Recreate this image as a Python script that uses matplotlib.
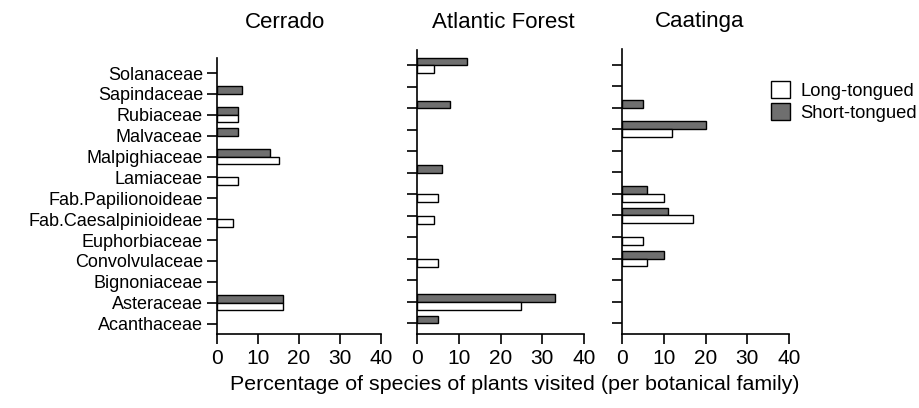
import numpy as np
import matplotlib
matplotlib.use('Agg')
import matplotlib.pyplot as plt
from matplotlib.patches import Patch

plt.rcParams['font.family'] = ['Liberation Sans', 'DejaVu Sans']

families = ['Acanthaceae', 'Asteraceae', 'Bignoniaceae', 'Convolvulaceae', 'Euphorbiaceae',
            'Fab.Caesalpinioideae', 'Fab.Papilionoideae', 'Lamiaceae', 'Malpighiaceae',
            'Malvaceae', 'Rubiaceae', 'Sapindaceae', 'Solanaceae']
biomes = ['Cerrado', 'Atlantic Forest', 'Caatinga']

# values listed bottom (Acanthaceae) to top (Solanaceae)
cerrado_long = [0, 16, 0, 0, 0, 4, 0, 5, 15, 0, 5, 0, 0]
cerrado_short = [0, 16, 0, 0, 0, 0, 0, 0, 13, 5, 5, 6, 0]
atlantic_long = [0, 25, 0, 5, 0, 4, 5, 0, 0, 0, 0, 0, 4]
atlantic_short = [5, 33, 0, 0, 0, 0, 0, 6, 0, 0, 8, 0, 12]
caatinga_long = [0, 0, 0, 6, 5, 17, 10, 0, 0, 12, 0, 0, 0]
caatinga_short = [0, 0, 0, 10, 0, 11, 6, 0, 0, 20, 5, 0, 0]

long_vals = [cerrado_long, atlantic_long, caatinga_long]
short_vals = [cerrado_short, atlantic_short, caatinga_short]

dark = '#6f6f6f'
W, H = 919, 408
fig = plt.figure(figsize=(W / 100, H / 100), dpi=100)

# axes boxes in pixels: left, right, top, bottom
boxes = [(217, 381, 58, 334), (417, 584, 50, 334), (622, 789, 49, 334)]
title_x = [285, 503, 700]
y = np.arange(len(families))
bh = 0.36

for i, (l, r, t, b) in enumerate(boxes):
    ax = fig.add_axes([l / W, (H - b) / H, (r - l) / W, (b - t) / H])
    lv = np.array(long_vals[i], dtype=float)
    sv = np.array(short_vals[i], dtype=float)
    ax.barh(y[sv > 0], sv[sv > 0], height=bh, align='edge', color=dark,
            edgecolor='black', linewidth=1)
    ax.barh(y[lv > 0] - bh, lv[lv > 0], height=bh, align='edge', color='white',
            edgecolor='black', linewidth=1)
    ax.set_xlim(0, 40)
    ax.set_ylim(-0.5, 12.72)
    ax.set_xticks([0, 10, 20, 30, 40])
    ax.set_yticks(y)
    if i == 0:
        ax.set_yticklabels(families)
    else:
        ax.set_yticklabels([])
    for s in ['top', 'right']:
        ax.spines[s].set_visible(False)
    for s in ['left', 'bottom']:
        ax.spines[s].set_linewidth(1.2)
    ax.tick_params(axis='both', length=7, width=1.2, labelsize=15, direction='out')
    ax.tick_params(axis='y', length=7, pad=3, labelsize=13)
    fig.text(title_x[i] / W, 1 - 22 / H, biomes[i], ha='center', va='center', fontsize=16)

fig.text(515 / W, 1 - 385 / H, 'Percentage of species of plants visited (per botanical family)',
         ha='center', va='center', fontsize=15.4)

handles = [Patch(facecolor='white', edgecolor='black', label='Long-tongued'),
           Patch(facecolor=dark, edgecolor='black', label='Short-tongued')]
fig.legend(handles=handles, loc='upper left', bbox_to_anchor=(762 / W, 1 - 72 / H),
           frameon=False, fontsize=13.2, handlelength=1.0, handleheight=1.0,
           handletextpad=0.6, labelspacing=0.2, borderpad=0)

fig.savefig('out.png', dpi=100)
